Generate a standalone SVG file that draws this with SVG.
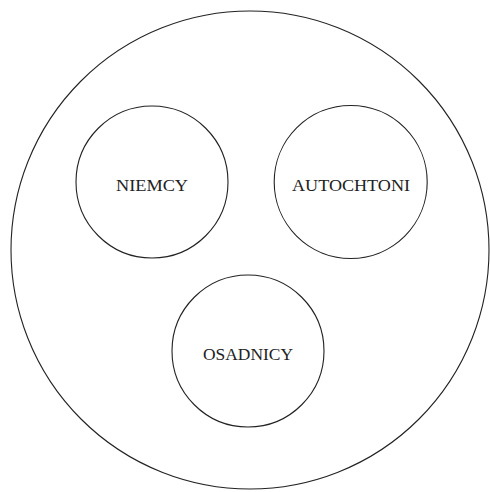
<svg xmlns="http://www.w3.org/2000/svg" width="490" height="492" viewBox="0 0 490 492">
<style>
.c{fill:none;stroke:#222;stroke-width:1.1}
.t{font-family:"Liberation Serif","DejaVu Serif",serif;font-size:16px;fill:#222;text-anchor:middle}
</style>
<rect width="490" height="492" fill="#fff"/>
<g id="outer"><circle class="c" cx="250" cy="250" r="239"/></g>
<g id="niemcy"><circle class="c" cx="152" cy="182" r="76"/><text class="t" x="152" y="190.5" textLength="72" lengthAdjust="spacingAndGlyphs">NIEMCY</text></g>
<g id="autochtoni"><circle class="c" cx="350.7" cy="182" r="76.5"/><text class="t" x="351" y="190.5" textLength="118" lengthAdjust="spacingAndGlyphs">AUTOCHTONI</text></g>
<g id="osadnicy"><circle class="c" cx="248" cy="351" r="76"/><text class="t" x="248" y="359.5" textLength="90" lengthAdjust="spacingAndGlyphs">OSADNICY</text></g>
<g id="connectors"/>
</svg>
